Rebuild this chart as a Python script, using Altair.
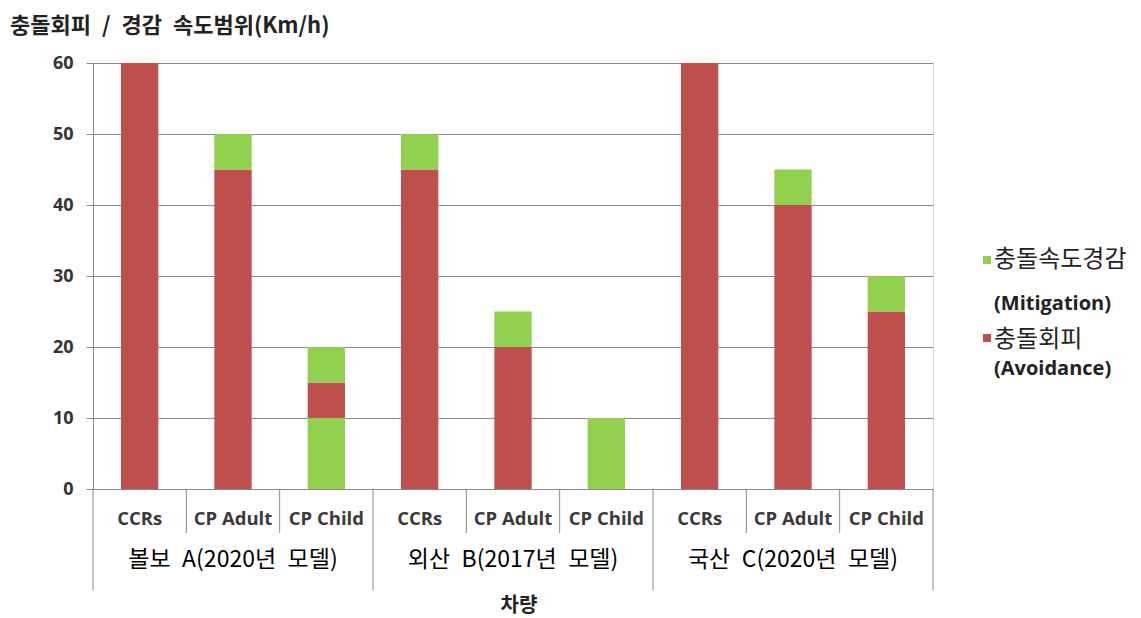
import altair as alt
import pandas as pd

SP = "\u2002"  # wide space, as in the reference's spacing

# ---- data ----
vehicles = ["볼보 A(2020년 모델)", "외산 B(2017년 모델)", "국산 C(2020년 모델)"]
tests = ["CCRs", "CP Adult", "CP Child"]

# stacked segments: bar index (0..8), kind, start, end (km/h)
seg_bar = [0, 1, 1, 2, 2, 2, 3, 3, 4, 4, 5, 6, 7, 7, 8, 8]
seg_kind = ["Avoid", "Avoid", "Mitig", "Mitig", "Avoid", "Mitig", "Avoid", "Mitig",
            "Avoid", "Mitig", "Mitig", "Avoid", "Avoid", "Mitig", "Avoid", "Mitig"]
seg_start = [0, 0, 45, 0, 10, 15, 0, 45, 0, 20, 0, 0, 0, 40, 0, 25]
seg_end = [60, 45, 50, 10, 15, 20, 45, 50, 20, 25, 10, 60, 40, 45, 25, 30]

legend_labels = ["충돌속도경감", "(Mitigation)", "충돌회피", "(Avoidance)"]
title_text = "충돌회피 / 경감 속도범위(Km/h)"
x_title = "차량"

RED = "#C0504D"
GREEN = "#92D050"
GRID = "#8a8a8a"
KR = "Noto Sans CJK KR"
LAT = "Open Sans"

W, H = 840, 426
n_bars = len(vehicles) * len(tests)

segs = pd.DataFrame({"bar": seg_bar, "kind": seg_kind, "start": seg_start, "end": seg_end})

xs = alt.Scale(domain=[0, n_bars], nice=False, zero=False)
ys = alt.Scale(domain=[0, 60], nice=False)
cs = alt.Scale(domain=["Avoid", "Mitig"], range=[RED, GREEN])

bars = alt.Chart(segs).transform_calculate(
    x0="datum.bar + 0.3", x1="datum.bar + 0.7"
).mark_bar().encode(
    x=alt.X("x0:Q", scale=xs, axis=None),
    x2="x1:Q",
    y=alt.Y("start:Q", scale=ys, title=None,
            axis=alt.Axis(values=[0, 10, 20, 30, 40, 50, 60], grid=True, gridColor=GRID,
                          domainColor=GRID, tickColor=GRID, tickSize=7, labelPadding=13,
                          labelFont=LAT, labelFontSize=18, labelFontWeight="bold",
                          labelColor="#333333")),
    y2="end:Q",
    color=alt.Color("kind:N", scale=cs, legend=None),
)

# category labels
cats = pd.DataFrame({"pos": [i + 0.5 for i in range(n_bars)],
                     "label": [t for _ in vehicles for t in tests]})
cat_text = alt.Chart(cats).mark_text(font=LAT, fontSize=18.5, fontWeight="bold",
                                     color="#3a3a3a", baseline="middle").encode(
    x=alt.X("pos:Q", scale=xs), y=alt.value(456), text="label:N")

grp = pd.DataFrame({"pos": [i * len(tests) + len(tests) / 2 for i in range(len(vehicles))],
                    "label": [v.replace(" ", SP) for v in vehicles]})
grp_text = alt.Chart(grp).mark_text(font=KR, fontSize=23, color="#000000",
                                    baseline="middle").encode(
    x=alt.X("pos:Q", scale=xs), y=alt.value(497), text="label:N")

# separators
short_sep = pd.DataFrame({"pos": [i for i in range(1, n_bars) if i % len(tests) != 0]})
long_sep = pd.DataFrame({"pos": [i for i in range(0, n_bars + 1) if i % len(tests) == 0]})
short_rules = alt.Chart(short_sep).mark_rule(color=GRID, strokeWidth=1).encode(
    x=alt.X("pos:Q", scale=xs), y=alt.value(H), y2=alt.value(H + 44))
long_rules = alt.Chart(long_sep).mark_rule(color=GRID, strokeWidth=1).encode(
    x=alt.X("pos:Q", scale=xs), y=alt.value(H), y2=alt.value(H + 101))

# titles
ttl = alt.Chart(pd.DataFrame({"t": [title_text.replace(" ", SP)]})).mark_text(
    font=KR, fontSize=22, fontWeight="bold", color="#222222", align="left",
    baseline="middle").encode(x=alt.value(-83), y=alt.value(-37), text="t:N")
xttl = alt.Chart(pd.DataFrame({"t": [x_title]})).mark_text(
    font=KR, fontSize=20, fontWeight="bold", color="#222222", align="center",
    baseline="middle").encode(x=alt.value(426), y=alt.value(543), text="t:N")

# legend
leg_sq = alt.Chart(pd.DataFrame({"k": ["Mitig", "Avoid"], "yy": [197, 275]})).mark_square(
    size=64, opacity=1).encode(
    x=alt.value(894), y=alt.Y("yy:Q", scale=None),
    color=alt.Color("k:N", scale=cs, legend=None))
leg_kr = alt.Chart(pd.DataFrame({"t": [legend_labels[0], legend_labels[2]],
                                 "yy": [197, 277]})).mark_text(
    font=KR, fontSize=24, color="#222222", align="left", baseline="middle").encode(
    x=alt.value(901), y=alt.Y("yy:Q", scale=None), text="t:N")
leg_en = alt.Chart(pd.DataFrame({"t": [legend_labels[1], legend_labels[3]],
                                 "yy": [241, 306]})).mark_text(
    font=LAT, fontSize=20, fontWeight="bold", color="#222222", align="left",
    baseline="middle").encode(x=alt.value(901), y=alt.Y("yy:Q", scale=None), text="t:N")

chart = alt.layer(bars, cat_text, grp_text, short_rules, long_rules, ttl, xttl,
                  leg_sq, leg_kr, leg_en).properties(
    width=W, height=H,
    autosize=alt.AutoSizeParams(type="none"),
    padding={"left": 93, "top": 63, "right": 208, "bottom": 129},
).configure_view(stroke=None).configure(background="white")

chart.save("out.html", embed_options={"renderer": "svg", "actions": False})
